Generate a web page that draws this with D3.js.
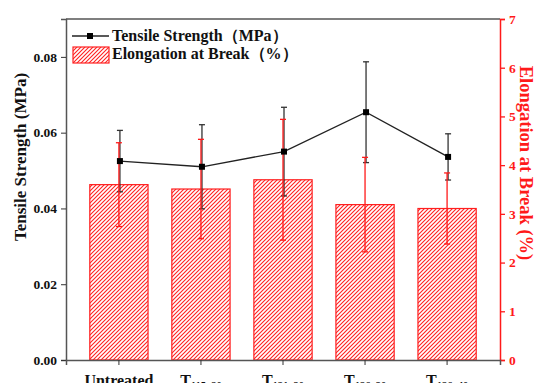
<!DOCTYPE html>
<html>
<head>
<meta charset="utf-8">
<script src="https://cdn.jsdelivr.net/npm/d3@7"></script>
<style>
  body { margin: 0; background: #fff; }
</style>
</head>
<body>
<div id="chart"></div>
<script>
var categories = ['Untreated', '115–20', '121–30', '126–30', '126–40'];
var strength = [0.0525, 0.0510, 0.0550, 0.0654, 0.0536];
var strengthErr = [0.0081, 0.0111, 0.0117, 0.0133, 0.0061];
var elongation = [3.60, 3.51, 3.70, 3.19, 3.11];
var elongationErr = [0.86, 1.02, 1.24, 0.97, 0.73];
var leftTicks = [0, 0.02, 0.04, 0.06, 0.08];
var rightTicks = [0, 1, 2, 3, 4, 5, 6, 7];

var FONT = '"Liberation Serif", "Times New Roman", serif';

var margin = {top: 19, right: 34, bottom: 23, left: 66};
var W = 534, H = 383;
var width = W - margin.left - margin.right,
    height = H - margin.top - margin.bottom;

var svg = d3.select('#chart').append('svg')
    .attr('width', W)
    .attr('height', H)
    .attr('font-family', FONT)
    .attr('font-weight', 'bold');

var defs = svg.append('defs');
defs.append('pattern')
    .attr('id', 'hatch')
    .attr('patternUnits', 'userSpaceOnUse')
    .attr('width', 4).attr('height', 4)
    .append('path')
    .attr('d', 'M-1,1 l2,-2 M0,4 l4,-4 M3,5 l2,-2')
    .attr('stroke', '#ff2020')
    .attr('stroke-width', 1.1);

var g = svg.append('g')
    .attr('transform', `translate(${margin.left}, ${margin.top})`);

var x = d3.scaleBand()
    .domain(categories)
    .range([0, width])
    .padding(0.29);

var yL = d3.scaleLinear().domain([0, 0.09]).range([height, 0]);
var yR = d3.scaleLinear().domain([0, 7]).range([height, 0]);

// frame top
g.append('line')
    .attr('x1', 0).attr('x2', width)
    .attr('y1', 0).attr('y2', 0)
    .attr('stroke', '#555').attr('stroke-width', 1.5);

// bars
g.selectAll('.bar')
    .data(elongation)
    .enter().append('rect')
    .attr('class', 'bar')
    .attr('x', (d, i) => x(categories[i]))
    .attr('y', d => yR(d))
    .attr('width', x.bandwidth())
    .attr('height', d => height - yR(d))
    .attr('fill', 'url(#hatch)')
    .attr('stroke', '#ff2020')
    .attr('stroke-width', 1.2);

function errorBars(vals, errs, scale, color, dx) {
    var eg = g.append('g').attr('stroke', color).attr('stroke-width', 1.3);
    vals.forEach((v, i) => {
        var cx = x(categories[i]) + x.bandwidth() / 2 + dx;
        var y1 = scale(v + errs[i]), y2 = scale(v - errs[i]);
        eg.append('line').attr('x1', cx).attr('x2', cx).attr('y1', y1).attr('y2', y2);
        eg.append('line').attr('x1', cx - 3).attr('x2', cx + 3).attr('y1', y1).attr('y2', y1);
        eg.append('line').attr('x1', cx - 3).attr('x2', cx + 3).attr('y1', y2).attr('y2', y2);
    });
}

errorBars(strength, strengthErr, yL, '#333', 1);
errorBars(elongation, elongationErr, yR, '#ff1a1a', 0);

// strength line
var line = d3.line()
    .x((d, i) => x(categories[i]) + x.bandwidth() / 2 + 1)
    .y(d => yL(d));

g.append('path')
    .datum(strength)
    .attr('d', line)
    .attr('fill', 'none')
    .attr('stroke', '#222')
    .attr('stroke-width', 1.3);

g.selectAll('.dot')
    .data(strength)
    .enter().append('rect')
    .attr('class', 'dot')
    .attr('x', (d, i) => x(categories[i]) + x.bandwidth() / 2 + 1 - 3)
    .attr('y', d => yL(d) - 3)
    .attr('width', 6).attr('height', 6)
    .attr('fill', '#000');

// left axis
g.append('g')
    .call(d3.axisLeft(yL).tickValues(leftTicks).tickFormat(d3.format('.2f')).tickSize(5).tickPadding(4))
    .attr('font-family', FONT)
    .call(a => a.select('.domain').attr('stroke', '#555').attr('stroke-width', 1.5))
    .call(a => a.selectAll('.tick line').attr('stroke', '#333'))
    .call(a => a.selectAll('text').attr('font-size', 13.5).attr('fill', '#111'));

// right axis
g.append('g')
    .attr('transform', `translate(${width}, 0)`)
    .call(d3.axisRight(yR).tickValues(rightTicks).tickFormat(d3.format('d')).tickSize(5).tickPadding(4))
    .attr('font-family', FONT)
    .call(a => a.select('.domain').attr('stroke', '#ff1a1a').attr('stroke-width', 1.5))
    .call(a => a.selectAll('.tick line').attr('stroke', '#ff1a1a').attr('stroke-width', 1.3))
    .call(a => a.selectAll('text').attr('font-size', 13.5).attr('fill', '#ff1a1a'));

// bottom axis
var xAxis = g.append('g')
    .attr('transform', `translate(0, ${height})`)
    .call(d3.axisBottom(x).tickSize(5).tickFormat(''))
    .attr('font-family', FONT)
    .call(a => a.select('.domain').attr('stroke', '#555').attr('stroke-width', 1.5))
    .call(a => a.selectAll('.tick line').attr('stroke', '#333'));

xAxis.selectAll('.tick').append('text')
    .attr('y', 26)
    .attr('fill', '#111')
    .attr('font-size', 16)
    .attr('text-anchor', 'middle')
    .each(function(d, i) {
        var t = d3.select(this);
        if (i == 0) {
            t.text(d);
        } else {
            t.append('tspan').text('T');
            t.append('tspan').attr('font-size', 10.5).attr('dy', 3).text(d);
        }
    });

// axis titles
svg.append('text')
    .attr('transform', 'translate(26, 157) rotate(-90)')
    .attr('text-anchor', 'middle')
    .attr('font-size', 17)
    .attr('fill', '#111')
    .text('Tensile Strength (MPa)');

svg.append('text')
    .attr('transform', 'translate(520, 163) rotate(90)')
    .attr('text-anchor', 'middle')
    .attr('font-size', 18.5)
    .attr('fill', '#ff1a1a')
    .text('Elongation at Break (%)');

// legend
var lg = svg.append('g').attr('transform', 'translate(72, 36)');
lg.append('line').attr('x1', 0).attr('x2', 37).attr('y1', 0).attr('y2', 0)
    .attr('stroke', '#222').attr('stroke-width', 1.3);
lg.append('rect').attr('x', 15).attr('y', -3).attr('width', 6).attr('height', 6).attr('fill', '#000');
lg.append('text').attr('x', 40).attr('y', 5).attr('font-size', 16).attr('fill', '#111')
    .text('Tensile Strength（MPa）');
lg.append('rect').attr('x', 1).attr('y', 11).attr('width', 36).attr('height', 16)
    .attr('fill', 'url(#hatch)').attr('stroke', '#ff2020').attr('stroke-width', 1.2);
lg.append('text').attr('x', 40).attr('y', 23).attr('font-size', 16).attr('fill', '#111')
    .text('Elongation at Break（%）');
</script>
</body>
</html>
